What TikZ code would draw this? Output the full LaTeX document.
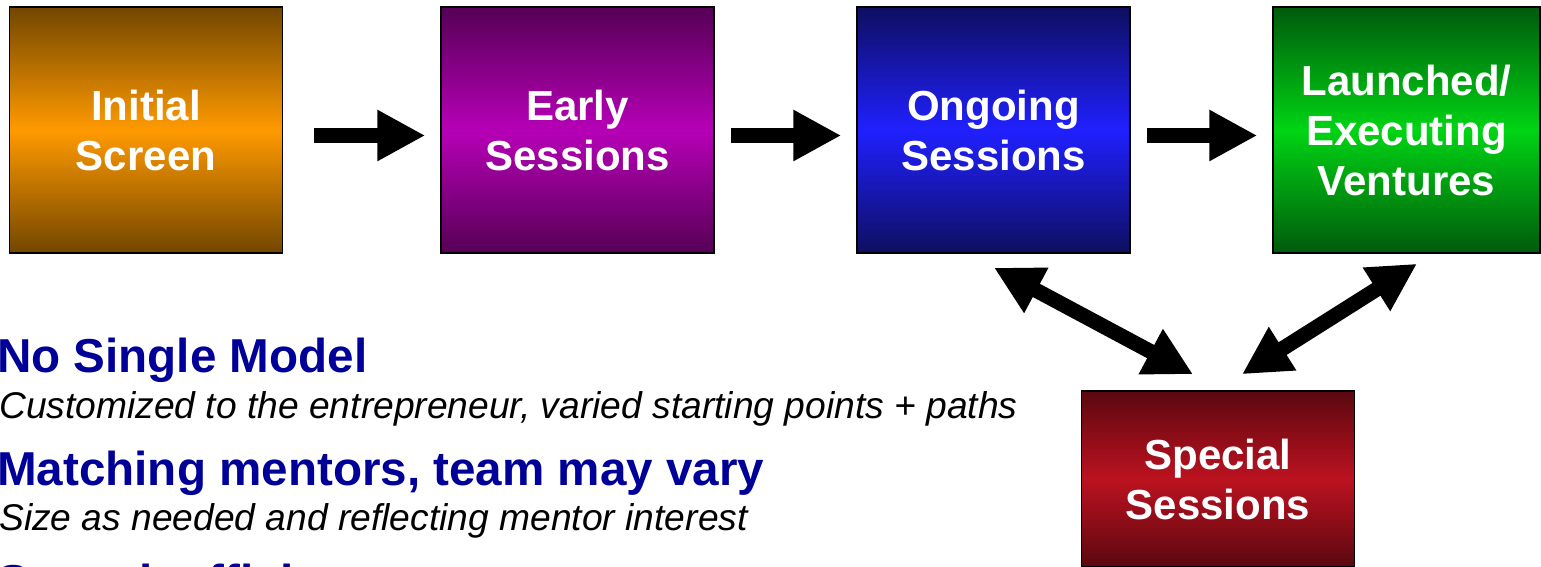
\documentclass[tikz,border=0pt]{standalone}
\usepackage{fontspec}
\setmainfont{Liberation Sans}
\usetikzlibrary{arrows.meta,calc}

\definecolor{headblue}{RGB}{0,0,153}
\definecolor{orTop}{RGB}{114,70,0}
\definecolor{orMid}{RGB}{255,154,0}
\definecolor{puTop}{RGB}{86,0,86}
\definecolor{puMid}{RGB}{182,0,182}
\definecolor{blTop}{RGB}{14,14,96}
\definecolor{blMid}{RGB}{32,32,255}
\definecolor{grTop}{RGB}{0,90,12}
\definecolor{grMid}{RGB}{0,212,20}
\definecolor{rdTop}{RGB}{90,8,16}
\definecolor{rdMid}{RGB}{188,18,32}

\begin{document}
\begin{tikzpicture}[x=1pt,y=-1pt,
  stage/.style={draw=black, line width=1.5pt, minimum width=273pt,
    minimum height=246pt, inner sep=0pt, text=white, align=center,
    font=\fontsize{42}{50}\selectfont\bfseries},
  shade/.style 2 args={top color=#1, bottom color=#1, middle color=#2},
  flow/.style={line width=15pt, -{Triangle[length=48pt,width=48pt]}},
  twoway/.style={line width=15pt,
    {Triangle[length=48pt,width=48pt]}-{Triangle[length=48pt,width=48pt]}},
  heading/.style={anchor=base west, inner sep=0pt, text=headblue,
    font=\fontsize{47.6}{56}\selectfont\bfseries},
  detail/.style={anchor=base west, inner sep=0pt, text=black,
    font=\fontsize{37.2}{44}\selectfont\itshape},
]
\useasboundingbox (0,0) rectangle (1541,567);

% process stages
\node[stage, shade={orTop}{orMid}] (init) at (146,130) {Initial\\Screen};
\node[stage, shade={puTop}{puMid}] (early) at (577.5,130) {Early\\Sessions};
\node[stage, shade={blTop}{blMid}] (ongo) at (993.5,130) {Ongoing\\Sessions};
\node[stage, shade={grTop}{grMid}, minimum width=267pt] (launch) at (1406.5,130)
  {Launched/\\Executing\\Ventures};
\node[stage, shade={rdTop}{rdMid}, minimum height=176pt] (spec) at (1218,479)
  {Special\\Sessions};

% forward flow
\draw[flow] ($(init.east)+(31,5.5)$) -- ($(early.west)+(-15,5.5)$);
\draw[flow] ($(early.east)+(16,5.5)$) -- ($(ongo.west)+(-15,5.5)$);
\draw[flow] ($(ongo.east)+(16,5.5)$) -- ($(launch.west)+(-15,5.5)$);

% links to the special sessions
\draw[twoway] ($(ongo.south)+(0.5,14)$) -- ($(spec.north)+(-25,-16)$);
\draw[twoway] ($(launch.south)+(10.5,10)$) -- ($(spec.north)+(24,-16)$);

% notes
\node[heading] (h1) at (-3,372) {No Single Model};
\node[detail] (d1) at (-1,418) {Customized to the entrepreneur, varied starting points + paths};
\node[heading] (h2) at (-3,485) {Matching mentors, team may vary};
\node[detail] (d2) at (-1,530) {Size as needed and reflecting mentor interest};
\node[heading] (h3) at (-3,598) {Some inefficiency};
\end{tikzpicture}
\end{document}
